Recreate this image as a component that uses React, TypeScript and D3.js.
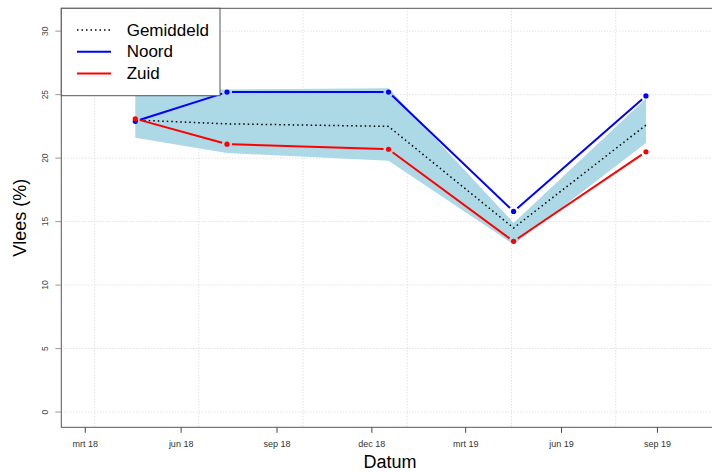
import React from "react";
import * as d3 from "d3";

// sampling dates and series (percent)
const dates = ["2018-04-18", "2018-07-15", "2018-12-17", "2019-04-16", "2019-08-21"];
const noord = [22.9, 25.2, 25.2, 15.8, 24.9];
const zuid = [23.1, 21.1, 20.7, 13.45, 20.5];
const gemiddeld = [23.0, 22.7, 22.5, 14.5, 22.6];
const bandLow = [21.6, 20.4, 19.8, 13.2, 21.2];
const bandHigh = [25.3, 25.4, 25.5, 14.9, 24.7];

const xTickDates = ["2018-03-01", "2018-06-01", "2018-09-01", "2018-12-01", "2019-03-01", "2019-06-01", "2019-09-01"];
const xTickLabels = ["mrt 18", "jun 18", "sep 18", "dec 18", "mrt 19", "jun 19", "sep 19"];
const yTicks = [0, 5, 10, 15, 20, 25, 30];
const gridDates = ["2018-03-10", "2018-06-18", "2018-09-26", "2019-01-04", "2019-04-14", "2019-07-23"];

const legendNames = ["Gemiddeld", "Noord", "Zuid"];
const legendColors = ["#000", "#0000ff", "#ff0000"];

const W = 712;
const H = 472;
const plot = { left: 61.3, right: 718.9, top: 8.3, bottom: 427.3 };
const FONT = "'Liberation Sans', Arial, sans-serif";

const App: React.FC = () => {
  const x = d3
    .scaleUtc()
    .domain([new Date("2018-02-06"), new Date("2019-10-30")])
    .range([plot.left, plot.right]);
  const y = d3.scaleLinear().domain([-1.2, 31.8]).range([plot.bottom, plot.top]);

  const idx = dates.map((_, i) => i);
  const px = (i: number) => x(new Date(dates[i]));

  const bandPath = d3
    .area<number>()
    .x((i) => px(i))
    .y0((i) => y(bandLow[i]))
    .y1((i) => y(bandHigh[i]))(idx)!;

  const meanPath = d3
    .line<number>()
    .x((i) => px(i))
    .y((i) => y(gemiddeld[i]))(idx)!;

  // R type="b": segments broken around the points
  const gap = 5;
  const segments = (vals: number[]) =>
    idx.slice(1).map((i) => {
      const x0 = px(i - 1), y0 = y(vals[i - 1]);
      const x1 = px(i), y1 = y(vals[i]);
      const len = Math.hypot(x1 - x0, y1 - y0);
      const ux = (x1 - x0) / len, uy = (y1 - y0) / len;
      return { x1: x0 + ux * gap, y1: y0 + uy * gap, x2: x1 - ux * gap, y2: y1 - uy * gap };
    });

  const series = [
    { vals: noord, color: "#0000ff" },
    { vals: zuid, color: "#ff0000" },
  ];

  const legend = { x: plot.left, y: plot.top, w: 220 - plot.left, h: 95.7 - plot.top };

  return (
    <div style={{ position: "absolute", left: 0, top: 0 }}>
      <svg width={W} height={H} style={{ display: "block", background: "#fff" }}>
        <defs>
          <clipPath id="plotClip">
            <rect x={plot.left} y={plot.top} width={plot.right - plot.left} height={plot.bottom - plot.top} />
          </clipPath>
        </defs>

        {/* grid */}
        <g stroke="#d3d3d3" strokeWidth={1} strokeDasharray="1,2" clipPath="url(#plotClip)">
          {yTicks.map((t) => (
            <line key={"gy" + t} x1={plot.left} x2={plot.right} y1={y(t)} y2={y(t)} />
          ))}
          {gridDates.map((d) => (
            <line key={"gx" + d} x1={x(new Date(d))} x2={x(new Date(d))} y1={plot.top} y2={plot.bottom} />
          ))}
        </g>

        <g clipPath="url(#plotClip)">
          <path d={bandPath} fill="#add8e6" stroke="none" />
          <path d={meanPath} fill="none" stroke="#000" strokeWidth={1.5} strokeDasharray="1.5,3" />
          {series.map((s) => (
            <g key={s.color}>
              {segments(s.vals).map((g, k) => (
                <line key={k} {...g} stroke={s.color} strokeWidth={2} />
              ))}
              {idx.map((i) => (
                <circle key={i} cx={px(i)} cy={y(s.vals[i])} r={2.6} fill={s.color} />
              ))}
            </g>
          ))}
        </g>

        {/* box */}
        <rect
          x={plot.left}
          y={plot.top}
          width={plot.right - plot.left}
          height={plot.bottom - plot.top}
          fill="none"
          stroke="#555"
          strokeWidth={1}
        />

        {/* y axis */}
        {yTicks.map((t) => (
          <g key={"yt" + t}>
            <line x1={plot.left - 6} x2={plot.left} y1={y(t)} y2={y(t)} stroke="#999" />
            <text
              transform={`translate(45,${y(t)}) rotate(-90)`}
              textAnchor="middle"
              dominantBaseline="central"
              fontFamily={FONT}
              fontSize={8.5}
              fill="#444"
            >
              {t}
            </text>
          </g>
        ))}

        {/* x axis */}
        {xTickDates.map((d, i) => (
          <g key={"xt" + d}>
            <line x1={x(new Date(d))} x2={x(new Date(d))} y1={plot.bottom} y2={plot.bottom + 5.5} stroke="#444" />
            <text
              x={x(new Date(d))}
              y={444}
              textAnchor="middle"
              dominantBaseline="central"
              fontFamily={FONT}
              fontSize={9}
              fill="#333"
            >
              {xTickLabels[i]}
            </text>
          </g>
        ))}

        {/* axis titles */}
        <text x={(plot.left + plot.right) / 2} y={462} textAnchor="middle" dominantBaseline="central" fontFamily={FONT} fontSize={18} fill="#000">
          Datum
        </text>
        <text
          transform={`translate(20,${(plot.top + plot.bottom) / 2}) rotate(-90)`}
          textAnchor="middle"
          dominantBaseline="central"
          fontFamily={FONT}
          fontSize={18}
          fill="#000"
        >
          Vlees (%)
        </text>

        {/* legend */}
        <rect x={legend.x} y={legend.y} width={legend.w} height={legend.h} fill="#fff" stroke="#555" strokeWidth={1} />
        {legendNames.map((name, i) => {
          const ly = 30 + i * 21.7;
          return (
            <g key={name}>
              <line
                x1={77}
                x2={111}
                y1={ly}
                y2={ly}
                stroke={legendColors[i]}
                strokeWidth={i === 0 ? 1.5 : 2}
                strokeDasharray={i === 0 ? "1.5,3" : undefined}
              />
              <text x={126.7} y={ly} dominantBaseline="central" fontFamily={FONT} fontSize={17} fill="#000">
                {name}
              </text>
            </g>
          );
        })}
      </svg>
    </div>
  );
};

export default App;
